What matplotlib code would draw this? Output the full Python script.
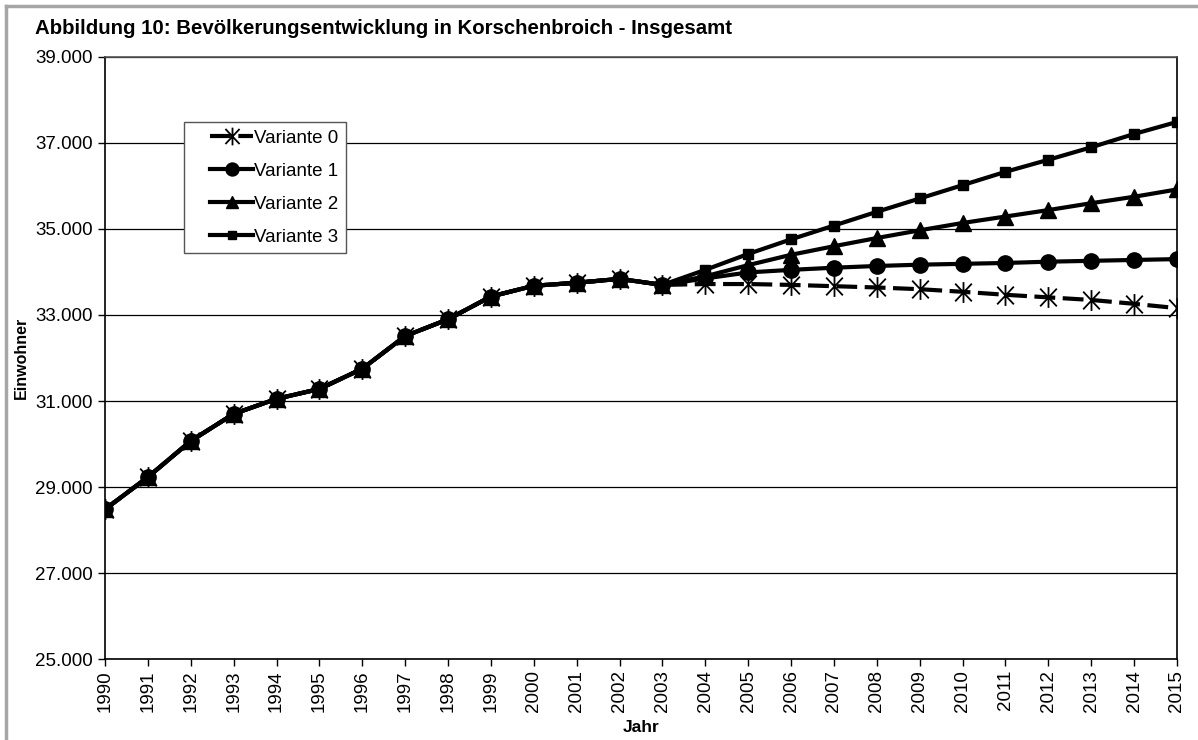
import matplotlib
matplotlib.use("Agg")
import matplotlib.pyplot as plt
from matplotlib.lines import Line2D
from matplotlib.path import Path
from matplotlib.ticker import FuncFormatter
from matplotlib.legend_handler import HandlerLine2D

plt.rcParams['font.family'] = ['Liberation Sans', 'DejaVu Sans']

years = list(range(1990, 2016))
history = [28480, 29230, 30070, 30700, 31050, 31280, 31750, 32510, 32900,
           33430, 33680, 33750, 33840, 33700]
var0_future = [33720, 33720, 33700, 33670, 33640, 33600, 33540, 33470, 33410, 33350, 33260, 33160]
var1_future = [33850, 33990, 34050, 34100, 34140, 34170, 34190, 34210, 34240, 34260, 34280, 34300]
var2_future = [33900, 34160, 34400, 34600, 34790, 34970, 35140, 35290, 35440, 35600, 35750, 35920]
var3_future = [34050, 34420, 34760, 35080, 35400, 35710, 36020, 36330, 36610, 36900, 37210, 37490]
labels = ['Variante 0', 'Variante 1', 'Variante 2', 'Variante 3']
series = [history + var0_future, history + var1_future,
          history + var2_future, history + var3_future]
title = 'Abbildung 10: Bevölkerungsentwicklung in Korschenbroich - Insgesamt'

fig = plt.figure(figsize=(11.98, 7.40), dpi=100)
ax = fig.add_axes([105/1198, 1-659/740, (1177-105)/1198, (659-57)/740])

star = Path([(0, -1), (0, 1), (-0.8, -0.85), (0.8, 0.85), (-0.8, 0.85), (0.8, -0.85)],
            [Path.MOVETO, Path.LINETO, Path.MOVETO, Path.LINETO, Path.MOVETO, Path.LINETO])

x = list(range(len(years)))
styles = [
    dict(linestyle=(0, (5, 1.8)), marker=star, markersize=15, markeredgewidth=1.3,
         markerfacecolor='none', markeredgecolor='black'),
    dict(linestyle='-', marker='o', markersize=11),
    dict(linestyle='-', marker='^', markersize=11),
    dict(linestyle='-', marker='s', markersize=6.5),
]
for vals, lab, st in zip(series, labels, styles):
    ax.plot(x, vals, color='black', linewidth=3, label=lab, **st)

ax.set_xlim(0, len(years)-1)
ax.set_ylim(25000, 39000)
ax.set_yticks(range(25000, 39001, 2000))
ax.yaxis.set_major_formatter(FuncFormatter(lambda v, p: f"{int(v):,}".replace(',', '.')))
ax.set_xticks(x)
ax.set_xticklabels([str(y) for y in years], rotation=90)
ax.tick_params(axis='both', labelsize=13.5, length=5, width=1, color='black', direction='out')
ax.tick_params(axis='x', pad=3)
ax.tick_params(axis='y', pad=4)
ax.yaxis.grid(True, color='black', linewidth=0.9)
ax.set_axisbelow(True)
for s in ['left', 'bottom', 'right']:
    ax.spines[s].set_color('black')
    ax.spines[s].set_linewidth(1.2)
ax.spines['top'].set_color('#555555')
ax.spines['top'].set_linewidth(1.2)

ax.set_xlabel('Jahr', fontsize=12.5, fontweight='bold', labelpad=6)
ax.set_ylabel('Einwohner', fontsize=11.5, fontweight='bold', labelpad=4)

handler = {h: HandlerLine2D(xpad=1.0) for h in ax.get_lines()}
leg = ax.legend(loc='upper left', bbox_to_anchor=(184/1198, 1-122/740),
                bbox_transform=fig.transFigure, fontsize=13.5, frameon=True,
                fancybox=False, framealpha=1, edgecolor='#555555',
                handlelength=3.3, handletextpad=0.05, labelspacing=0.85,
                borderpad=0.4, borderaxespad=0, markerscale=0.85,
                handler_map=handler)
leg.get_frame().set_linewidth(1.0)

fig.text(35/1198, 1-28/740, title, fontsize=14.7, fontweight='bold', va='center', ha='left')

fig.add_artist(Line2D([6/1198, 6/1198], [0, 1-6/740], transform=fig.transFigure,
                      color='#a6a6a6', linewidth=2.5))
fig.add_artist(Line2D([6/1198, 1], [1-6/740, 1-6/740], transform=fig.transFigure,
                      color='#a6a6a6', linewidth=2.5))

fig.savefig('out.png', dpi=100)
